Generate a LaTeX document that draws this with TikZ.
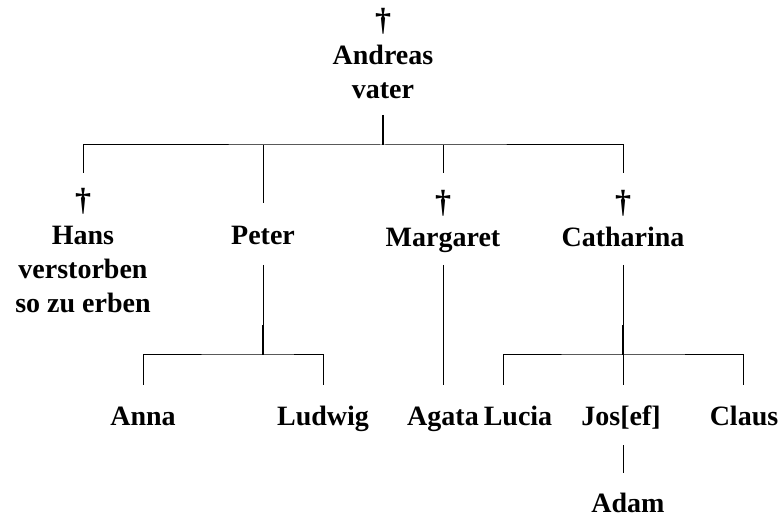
\documentclass[tikz,border=0pt]{standalone}
\usepackage{fontspec}
\setmainfont{Liberation Serif}
\newcommand{\crossmark}{{\fontsize{32}{34}\selectfont †}}
\begin{document}
\begin{tikzpicture}[x=1pt,y=-1pt,
  person/.style={font=\bfseries\fontsize{28}{34}\selectfont, align=center, inner sep=0pt, anchor=base},
  tree/.style={line width=1pt, draw=black},
  heavy/.style={line width=2pt, draw=black}]
\useasboundingbox (0,0) rectangle (779,518);
% people
\node[person] (andreas) at (383,99) {\crossmark\\Andreas\\vater};
\node[person] (hans) at (83,313) {\crossmark\\Hans\\verstorben\\so zu erben};
\node[person] (peter) at (263,245) {Peter};
\node[person] (margaret) at (443,247) {\crossmark\\Margaret};
\node[person] (catharina) at (623,247) {\crossmark\\Catharina};
\node[person] (anna) at (143,425) {Anna};
\node[person] (ludwig) at (323,425) {Ludwig};
\node[person] (agata) at (443,425) {Agata};
\node[person] (lucia) at (518,425) {Lucia};
\node[person] (josef) at (621,425) {Jos[ef]};
\node[person] (claus) at (744,425) {Claus};
\node[person] (adam) at (628,512) {Adam};
% junctions
\coordinate (j0) at (383,145);
\coordinate (pj) at (263,355);
\coordinate (pk) at (263,325);
\coordinate (cj) at (623,355);
\coordinate (ck) at (623,325);
% Andreas to children
\draw[heavy] (j0 |- 0,115) -- (j0);
\draw[tree] (hans.north |- 0,173) |- (j0) -| (catharina.north |- 0,173);
\draw[tree] (peter.north |- 0,203) -- (peter.north |- j0);
\draw[tree] (margaret.north |- 0,173) -- (margaret.north |- j0);
% Peter's children
\draw[tree] (peter.south |- 0,265) -- (pk);
\draw[heavy] (pk) -- (pj);
\draw[tree] (anna.north |- 0,385) |- (pj) -| (ludwig.north |- 0,385);
% Margaret's child
\draw[tree] (margaret.south |- 0,265) -- (agata.north |- 0,385);
% Catharina's children
\draw[tree] (catharina.south |- 0,265) -- (ck);
\draw[heavy] (ck) -- (cj);
\draw[tree] (503,385) |- (cj) -| (743,385);
\draw[tree] (cj) -- (623,385);
% Josef's child
\draw[tree] (623,445) -- (623,473);
\end{tikzpicture}
\end{document}
